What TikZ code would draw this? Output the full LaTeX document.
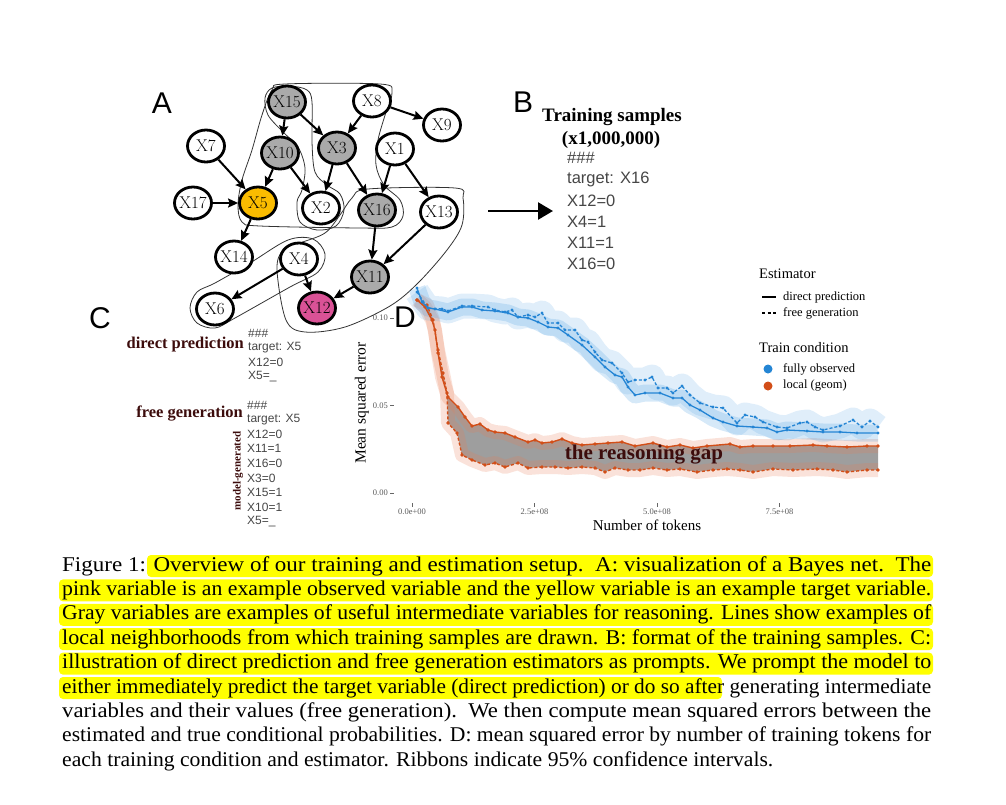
\documentclass[tikz,border=0pt]{standalone}
\usepackage{fontspec}
\usetikzlibrary{arrows.meta,shapes.geometric}
\newfontfamily\sansf{Liberation Sans}
\newfontfamily\serf{Liberation Serif}

\definecolor{varGray}{RGB}{170,170,170}
\definecolor{varGold}{RGB}{250,188,0}
\definecolor{varPink}{RGB}{218,82,150}
\definecolor{promptRed}{RGB}{60,12,12}
\definecolor{sampleGray}{RGB}{70,70,70}
\definecolor{lineBlue}{RGB}{36,133,212}
\definecolor{lineOrange}{RGB}{210,78,24}
\definecolor{ribBlue}{RGB}{70,155,225}
\definecolor{ribOrange}{RGB}{232,125,85}
\definecolor{gapGray}{RGB}{158,158,158}
\definecolor{hiYellow}{RGB}{255,255,0}

% one caption line, set to the full measure
\newcommand\capline[1]{\resizebox{869pt}{\height}{#1}}

\tikzset{
  var/.style={ellipse,draw,line width=2.8,minimum width=37,minimum height=32,inner sep=0,fill=white,
    font=\fontsize{17}{17}\selectfont,
    execute at begin node={\hbox to 0pt\bgroup\hss},execute at end node={\hss\egroup}},
  edge/.style={line width=2,-{Stealth[length=10,width=9,inset=1.5]}},
  hood/.style={line width=0.8,black!80},
  panel/.style={font=\sansf\fontsize{30}{30}\selectfont,inner sep=0},
  bsample/.style={anchor=west,inner sep=0,text=sampleGray,font=\sansf\fontsize{16.5}{16.5}\selectfont},
  csample/.style={anchor=west,inner sep=0,text=sampleGray,font=\sansf\fontsize{12}{12}\selectfont},
  prompthead/.style={anchor=east,inner sep=0,text=promptRed,font=\serf\bfseries\fontsize{16.5}{16.5}\selectfont},
  ticklab/.style={inner sep=0,text=black!65,font=\serf\fontsize{8.5}{8.5}\selectfont},
  legtitle/.style={anchor=west,inner sep=0,font=\serf\fontsize{14.5}{14.5}\selectfont},
  legitem/.style={anchor=west,inner sep=0,font=\serf\fontsize{12.5}{12.5}\selectfont},
  capnode/.style={anchor=west,inner sep=0,font=\serf\fontsize{21}{21}\selectfont},
  hilite/.style={fill=hiYellow,rounded corners=4},
}

% curves of panel D, in picture units
\def\bluesolid{plot coordinates {(417,288) (422,302) (428,308) (435,309) (448,312) (462,307) (472,307) (482,310) (495,311) (508,313) (518,317) (528,318) (538,322) (548,327) (558,328) (568,335) (582,345) (595,357) (605,367) (615,375) (622,377) (628,387) (635,395) (645,393) (660,393) (673,398) (682,398) (690,405) (700,410) (713,418) (723,422) (737,426) (753,427) (767,428) (777,432) (787,430) (807,431) (823,432) (840,432) (857,433) (878,433)}}
\def\bluefree{plot coordinates {(417,292) (428,308) (442,309) (448,311) (462,306) (472,306) (488,307) (495,310) (505,312) (512,310) (518,317) (528,315) (535,317) (542,313) (548,323) (558,323) (565,330) (575,330) (582,340) (588,342) (595,352) (602,360) (612,363) (622,373) (628,382) (635,380) (645,380) (652,377) (658,388) (667,388) (673,393) (682,386) (690,395) (700,403) (713,407) (723,408) (737,423) (745,415) (755,417) (763,422) (777,427) (787,428) (800,423) (807,422) (815,427) (823,430) (840,426) (853,420) (862,427) (870,421) (878,427)}}
\def\orgsolid{plot coordinates {(417,300) (425,307) (432,320) (435,330) (438,353) (442,377) (448,397) (458,407) (465,417) (472,426) (480,424) (488,430) (495,432) (505,433) (515,437) (528,442) (535,440) (542,443) (552,442) (562,439) (572,443) (582,445) (595,444) (608,443) (622,442) (635,446) (653,443) (667,447) (680,445) (693,448) (707,446) (730,444) (740,447) (753,446) (773,446) (790,446) (813,445) (827,446) (847,447) (867,446) (878,446)}}
\def\orgfree{plot coordinates {(417,300) (427,305) (433,320) (438,350) (443,373) (447,393) (448,423) (457,433) (462,455) (472,460) (485,465) (495,463) (505,467) (518,463) (528,468) (542,467) (555,467) (568,468) (582,467) (595,468) (605,472) (615,468) (628,470) (640,470) (653,468) (667,470) (680,469) (697,472) (713,470) (727,469) (740,470) (753,472) (773,469) (793,470) (817,469) (833,470) (847,472) (867,470) (878,470)}}
\def\orgfreeback{-- (878,470) -- (867,470) -- (847,472) -- (833,470) -- (817,469) -- (793,470) -- (773,469) -- (753,472) -- (740,470) -- (727,469) -- (713,470) -- (697,472) -- (680,469) -- (667,470) -- (653,468) -- (640,470) -- (628,470) -- (615,468) -- (605,472) -- (595,468) -- (582,467) -- (568,468) -- (555,467) -- (542,467) -- (528,468) -- (518,463) -- (505,467) -- (495,463) -- (485,465) -- (472,460) -- (462,455) -- (457,433) -- (448,423) -- (447,393) -- (443,373) -- (438,350) -- (433,320) -- (427,305)}

\begin{document}
\begin{tikzpicture}[x=1pt,y=-1pt]
  \useasboundingbox (0,0) rectangle (1006,804);

  % A: neighbourhoods
  \draw[hood] plot[smooth cycle,tension=0.55] coordinates {(272,90) (285,84) (380,84) (392,92) (386,112) (378,140) (376,165) (384,185) (400,200) (403,216) (392,227) (360,228) (260,226) (242,222) (238,205) (242,180) (252,150) (262,115)};
  \draw[hood] plot[smooth cycle,tension=0.55] coordinates {(265,98) (272,88) (290,86) (307,90) (312,102) (312,142) (315,172) (327,185) (340,194) (344,210) (336,226) (317,230) (300,222) (297,202) (302,190) (305,168) (298,147) (283,132) (268,115)};
  \draw[hood] plot[smooth cycle,tension=0.55] coordinates {(277,270) (283,250) (300,243) (325,233) (340,215) (352,198) (368,189) (455,188) (463,198) (462,225) (447,250) (418,283) (390,306) (345,327) (305,332) (286,320)};
  \draw[hood] plot[smooth cycle,tension=0.55] coordinates {(190,308) (197,292) (215,283) (250,263) (288,240) (313,239) (325,254) (318,272) (290,287) (235,318) (215,328) (197,323)};

  % A: variables
  \node[var,fill=varGray] (x15) at (287,102) {X15};
  \node[var] (x8) at (372,101) {X8};
  \node[var] (x9) at (442,125) {X9};
  \node[var] (x7) at (206,146) {X7};
  \node[var,fill=varGray] (x10) at (280,153) {X10};
  \node[var,fill=varGray] (x3) at (337,148) {X3};
  \node[var] (x1) at (395,149) {X1};
  \node[var] (x17) at (193,203) {X17};
  \node[var,fill=varGold] (x5) at (258,203) {X5};
  \node[var] (x2) at (321,208) {X2};
  \node[var,fill=varGray] (x16) at (377,210) {X16};
  \node[var] (x13) at (439,212) {X13};
  \node[var] (x14) at (234,257) {X14};
  \node[var] (x4) at (299,259) {X4};
  \node[var,fill=varGray] (x11) at (370,277) {X11};
  \node[var] (x6) at (215,309) {X6};
  \node[var,fill=varPink] (x12) at (317,308) {X12};
  \foreach \a/\b in {x15/x10,x15/x3,x8/x3,x8/x9,x7/x5,x17/x5,x10/x5,x10/x2,x3/x2,x3/x16,
      x1/x16,x1/x13,x5/x14,x16/x11,x13/x11,x4/x6,x4/x12,x11/x12}
    \draw[edge] (\a) -- (\b);

  % panel letters
  \node[panel] (pa) at (162,103) {A};
  \node[panel] (pb) at (523,102) {B};
  \node[panel] (pc) at (100,318) {C};
  \node[panel] (pd) at (405,317) {D};

  % B: training samples
  \coordinate (arrowtail) at (488,211);
  \coordinate (arrowhead) at (553,211);
  \draw[line width=2.5,-{Triangle[length=15,width=17]}] (arrowtail) -- (arrowhead);
  \node[font=\serf\bfseries\fontsize{19}{19}\selectfont] (bhead) at (612,117) {Training samples};
  \node[font=\serf\bfseries\fontsize{19}{19}\selectfont] (bcount) at (611,140) {(x1,000,000)};
  \foreach \t [count=\i from 0] in {\#\#\#,target: X16,X12=0,X4=1,X11=1,X16=0}
    \node[bsample] (bs\i) at (567,{158+21.2*\i}) {\t};

  % C: prompts
  \node[prompthead] (cdirect) at (244,345) {direct prediction};
  \node[prompthead] (cfree) at (243,414) {free generation};
  \node[rotate=90,inner sep=0,text=promptRed,font=\serf\bfseries\fontsize{11}{11}\selectfont] (cmodel) at (238,471) {model-generated};
  \foreach \t [count=\i from 0] in {\#\#\#,target: X5,X12=0,X5=\_}
    \node[csample] (cd\i) at (248,{333+14.6*\i}) {\t};
  \foreach \t [count=\i from 0] in {\#\#\#,target: X5,X12=0,X11=1,X16=0,X3=0,X15=1,X10=1,X5=\_}
    \node[csample] (cf\i) at (247,{405+14.6*\i}) {\t};

  % D: ribbons and curves
  \fill[gapGray] \orgsolid \orgfreeback -- cycle;
  \draw[ribOrange,opacity=.22,line width=14,line join=round] \orgsolid;
  \draw[ribOrange,opacity=.22,line width=14,line join=round] \orgfree;
  \draw[ribBlue,opacity=.22,line width=17,line join=round] \bluesolid;
  \draw[ribBlue,opacity=.17,line width=25,line join=round] \bluefree;
  \draw[lineOrange,line width=1.4,mark=*,mark size=0.8] \orgsolid;
  \draw[lineOrange,line width=1.4,dash pattern=on 3 off 2,mark=*,mark size=0.8,mark options={solid}] \orgfree;
  \draw[lineBlue,line width=1.3,mark=*,mark size=0.8] \bluesolid;
  \draw[lineBlue,line width=1.3,dash pattern=on 3 off 2,mark=*,mark size=0.8,mark options={solid}] \bluefree;
  \node[text=promptRed,font=\serf\bfseries\fontsize{21}{21}\selectfont] (gap) at (644,455) {the reasoning gap};

  % D: axes
  \foreach \v [count=\i from 0] in {0.10,0.05,0.00} {
    \node[ticklab,anchor=east] (yt\i) at (388,{318+87.5*\i}) {\v};
    \draw[black!60,line width=0.7] (yt\i.east) ++(2,0) -- ++(4,0);
  }
  \foreach \v [count=\i from 0] in {0.0e+00,2.5e+08,5.0e+08,7.5e+08} {
    \node[ticklab] (xt\i) at ({412+122.5*\i},512) {\v};
    \draw[black!60,line width=0.7] (xt\i.north) ++(0,-2) -- ++(0,-4);
  }
  \node[rotate=90,font=\serf\fontsize{15.5}{15.5}\selectfont] (ylab) at (362,403) {Mean squared error};
  \node[font=\serf\fontsize{15}{15}\selectfont] (xlab) at (647,525) {Number of tokens};

  % D: legend
  \node[legtitle] (esttitle) at (759,274) {Estimator};
  \draw[line width=1.6] (762,297) -- (776,297);
  \node[legitem] (legdirect) at (783,297) {direct prediction};
  \draw[line width=1.6,dash pattern=on 3 off 2.5] (762,313) -- (776,313);
  \node[legitem] (legfree) at (783,313) {free generation};
  \node[legtitle] (traintitle) at (759,348) {Train condition};
  \fill[lineBlue] (768,369) circle (4.5);
  \node[legitem] (legfull) at (783,369) {fully observed};
  \fill[lineOrange] (768,386) circle (4.5);
  \node[legitem] (leglocal) at (783,386) {local (geom)};

  % caption
  \fill[hilite] (147,555) rectangle (933,577);
  \foreach \i in {1,...,4} \fill[hilite] (59,{555+24.4*\i}) rectangle (933,{577+24.4*\i});
  \fill[hilite] (59,677) rectangle (722,699);
  \node[capnode] (cap1) at (62,566.0) {\capline{Figure 1: Overview of our training and estimation setup.\ \ A: visualization of a Bayes net.\ \ The}};
  \node[capnode] (cap2) at (62,590.4) {\capline{pink variable is an example observed variable and the yellow variable is an example target variable.}};
  \node[capnode] (cap3) at (62,614.8) {\capline{Gray variables are examples of useful intermediate variables for reasoning. Lines show examples of}};
  \node[capnode] (cap4) at (62,639.2) {\capline{local neighborhoods from which training samples are drawn. B: format of the training samples. C:}};
  \node[capnode] (cap5) at (62,663.6) {\capline{illustration of direct prediction and free generation estimators as prompts. We prompt the model to}};
  \node[capnode] (cap6) at (62,688.0) {\capline{either immediately predict the target variable (direct prediction) or do so after generating intermediate}};
  \node[capnode] (cap7) at (62,712.4) {\capline{variables and their values (free generation).\ \ We then compute mean squared errors between the}};
  \node[capnode] (cap8) at (62,736.8) {\capline{estimated and true conditional probabilities. D: mean squared error by number of training tokens for}};
  \node[capnode] (cap9) at (62,761.2) {\resizebox{711pt}{\height}{each training condition and estimator. Ribbons indicate 95\% confidence intervals.}};
\end{tikzpicture}
\end{document}
